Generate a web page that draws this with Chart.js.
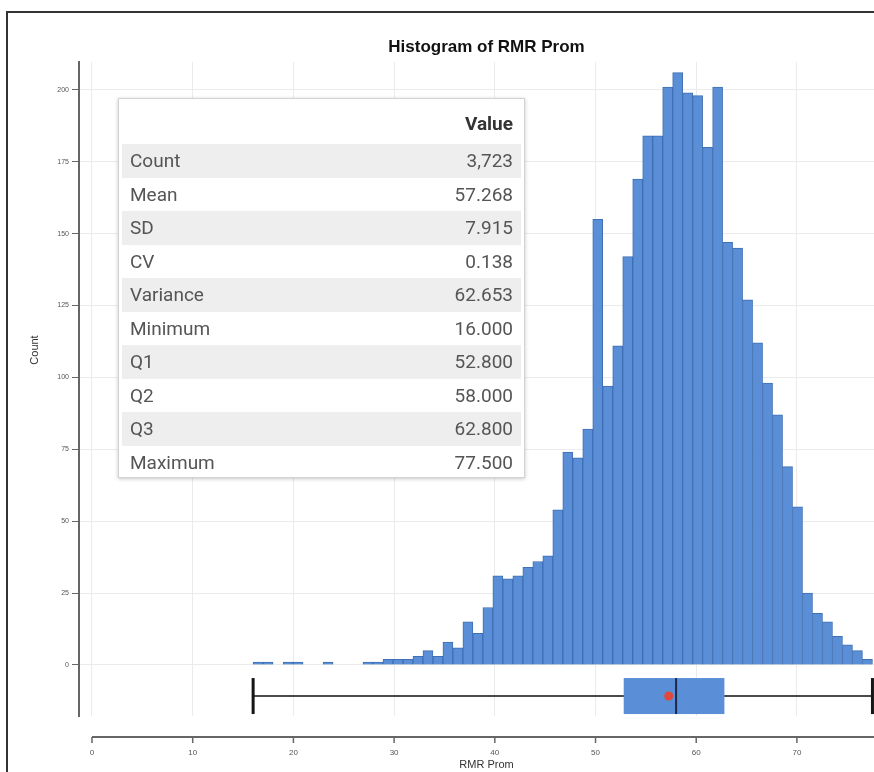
<!DOCTYPE html>
<html>
<head>
<meta charset="utf-8">
<title>Histogram of RMR Prom</title>
<script src="https://cdn.jsdelivr.net/npm/chart.js@4/dist/chart.umd.min.js"></script>
<style>
  html, body { margin: 0; padding: 0; background: #fff; }
  #wrap { position: relative; width: 874px; height: 772px; overflow: hidden; background: #fff; }
  #chart { position: absolute; left: 0; top: 0; }
  #frame { position: absolute; left: 6px; top: 11px; width: 920px; height: 820px;
           border-left: 2px solid #333; border-top: 2px solid #333; pointer-events: none; }
  #stats { position: absolute; left: 118px; top: 98px; width: 407px; height: 380px; box-sizing: border-box;
           background: #fff; border: 1px solid #d2d2d2; box-shadow: 0 1px 4px rgba(0,0,0,0.22); padding: 3px;
           font-family: Roboto, "Liberation Sans", sans-serif; }
  #stats table { border-collapse: collapse; width: 100%; }
  #stats th, #stats td { padding: 0 8px; font-size: 19px; color: #555; font-weight: 400; white-space: nowrap; }
  #stats th { height: 42px; text-align: right; font-weight: 700; color: #333; }
  #stats td { height: 33.5px; }
  #stats td.v { text-align: right; }
  #stats tr.alt td { background: #eeeeee; }
</style>
</head>
<body>
<div id="wrap">
  <canvas id="chart" width="894" height="772"></canvas>
  <div id="frame"></div>
  <div id="stats"><table id="statTable"></table></div>
</div>
<script>
// Summary statistics of RMR Prom
const statLabels = ['Count', 'Mean', 'SD', 'CV', 'Variance', 'Minimum', 'Q1', 'Q2', 'Q3', 'Maximum'];
const statValues = [3723, 57.268, 7.915, 0.138, 62.653, 16.000, 52.800, 58.000, 62.800, 77.500];

// Histogram counts, 62 equal-width bins from Minimum to Maximum
const binCounts = [
  1, 1, 0, 1, 1, 0, 0, 1, 0, 0,
  0, 1, 1, 2, 2, 2, 3, 5, 3, 8,
  6, 15, 11, 20, 31, 30, 31, 34, 36, 38,
  54, 74, 72, 82, 155, 97, 111, 142, 169, 184,
  184, 201, 206, 199, 198, 180, 201, 147, 145, 127,
  112, 98, 87, 69, 55, 25, 18, 15, 10, 7,
  5, 2
];

// Axis tick labels
const xTicks = [0, 10, 20, 30, 40, 50, 60, 70];
const yTicks = [0, 25, 50, 75, 100, 125, 150, 175, 200];

const stat = name => statValues[statLabels.indexOf(name)];

// Statistics table
const table = document.getElementById('statTable');
let html = '<tr><th></th><th>Value</th></tr>';
statLabels.forEach((lab, i) => {
  const v = statValues[i];
  const txt = lab === 'Count' ? v.toLocaleString('en-US') : v.toFixed(3);
  html += '<tr class="' + (i % 2 === 0 ? 'alt' : '') + '"><td>' + lab + '</td><td class="v">' + txt + '</td></tr>';
});
table.innerHTML = html;

// Bin layout
const binMin = stat('Minimum');
const binMax = stat('Maximum');
const binWidth = (binMax - binMin) / binCounts.length;
const histPoints = binCounts.map((c, i) => ({ x: binMin + binWidth * (i + 0.5), y: c }));

const BAR_FILL = '#5a8ed6';
const BAR_EDGE = '#3f6fb4';

// Box plot drawn below the zero line, using the chart's own scales
const boxPlot = {
  id: 'boxPlot',
  afterDatasetsDraw(chart, args, opts) {
    const { ctx, scales: { x, y } } = chart;
    const yc = y.getPixelForValue(opts.level);
    const h = opts.halfHeight;
    const px = v => x.getPixelForValue(v);
    ctx.save();
    // whisker
    ctx.strokeStyle = '#4a4a4a';
    ctx.lineWidth = 2;
    ctx.beginPath();
    ctx.moveTo(px(stat('Minimum')), yc);
    ctx.lineTo(px(stat('Maximum')), yc);
    ctx.stroke();
    // caps
    ctx.strokeStyle = '#151515';
    ctx.lineWidth = 3;
    [stat('Minimum'), stat('Maximum')].forEach(v => {
      ctx.beginPath();
      ctx.moveTo(px(v), yc - h);
      ctx.lineTo(px(v), yc + h);
      ctx.stroke();
    });
    // box
    ctx.fillStyle = BAR_FILL;
    ctx.fillRect(px(stat('Q1')), yc - h, px(stat('Q3')) - px(stat('Q1')), 2 * h);
    // median
    ctx.strokeStyle = '#1b2a4a';
    ctx.lineWidth = 2;
    ctx.beginPath();
    ctx.moveTo(px(stat('Q2')), yc - h);
    ctx.lineTo(px(stat('Q2')), yc + h);
    ctx.stroke();
    // mean
    ctx.fillStyle = '#e0483c';
    ctx.beginPath();
    ctx.arc(px(stat('Mean')), yc, 4.5, 0, Math.PI * 2);
    ctx.fill();
    ctx.restore();
  }
};

// x axis line set apart below the plotting area, and the y axis caption
const offsetAxis = {
  id: 'offsetAxis',
  afterDraw(chart, args, opts) {
    const { ctx, chartArea, scales: { x } } = chart;
    const yLine = chartArea.bottom + opts.gap;
    ctx.save();
    ctx.strokeStyle = '#666';
    ctx.lineWidth = 2;
    ctx.beginPath();
    ctx.moveTo(x.getPixelForValue(xTicks[0]), yLine);
    ctx.lineTo(chartArea.right, yLine);
    ctx.stroke();
    ctx.lineWidth = 1.5;
    x.ticks.forEach(t => {
      const p = x.getPixelForValue(t.value);
      ctx.beginPath();
      ctx.moveTo(p, yLine);
      ctx.lineTo(p, yLine + opts.tick);
      ctx.stroke();
    });
    // y axis caption
    ctx.translate(opts.captionX, opts.captionY);
    ctx.rotate(-Math.PI / 2);
    ctx.fillStyle = '#333';
    ctx.font = '11px "Liberation Sans"';
    ctx.textAlign = 'center';
    ctx.textBaseline = 'middle';
    ctx.fillText('Count', 0, 0);
    ctx.restore();
  }
};

new Chart(document.getElementById('chart'), {
  type: 'bar',
  data: {
    datasets: [{
      label: 'Count',
      data: histPoints,
      backgroundColor: BAR_FILL,
      borderColor: BAR_EDGE,
      borderWidth: 1,
      barPercentage: 1,
      categoryPercentage: 1
    }]
  },
  options: {
    responsive: false,
    animation: false,
    devicePixelRatio: 1,
    layout: { padding: { left: 8, top: 0, right: 0, bottom: 0 } },
    plugins: {
      legend: { display: false },
      tooltip: { enabled: false },
      title: {
        display: true,
        text: 'Histogram of RMR Prom',
        fullSize: false,
        color: '#111',
        font: { family: 'Liberation Sans', size: 17, weight: 'bold' },
        padding: { top: 36.8, bottom: 4.8 }
      },
      boxPlot: { level: -10.8, halfHeight: 18 },
      offsetAxis: { gap: 21, tick: 6, captionX: 35, captionY: 350 }
    },
    scales: {
      x: {
        type: 'linear',
        min: -1.29,
        max: 79.64,
        offset: false,
        afterBuildTicks: s => { s.ticks = xTicks.map(v => ({ value: v })); },
        afterFit: s => { s.height = 56; },
        border: { display: false },
        grid: { color: '#ebebeb', drawTicks: false, offset: false },
        ticks: { padding: 32, autoSkip: false, maxRotation: 0, color: '#555',
                 font: { family: 'Liberation Sans', size: 8 } },
        title: { display: true, text: 'RMR Prom', color: '#333',
                 font: { family: 'Liberation Sans', size: 11 }, padding: { top: 0, bottom: 0.5 } }
      },
      y: {
        type: 'linear',
        min: -17.74,
        max: 209.7,
        afterBuildTicks: s => { s.ticks = yTicks.map(v => ({ value: v })); },
        afterFit: s => { s.width = 71; },
        border: { display: true, color: '#666', width: 2 },
        grid: { color: '#ebebeb', tickLength: 7, tickColor: '#666' },
        ticks: { padding: 3, color: '#555', font: { family: 'Liberation Sans', size: 7 } },
        title: { display: false }
      }
    }
  },
  plugins: [boxPlot, offsetAxis]
});
</script>
</body>
</html>
